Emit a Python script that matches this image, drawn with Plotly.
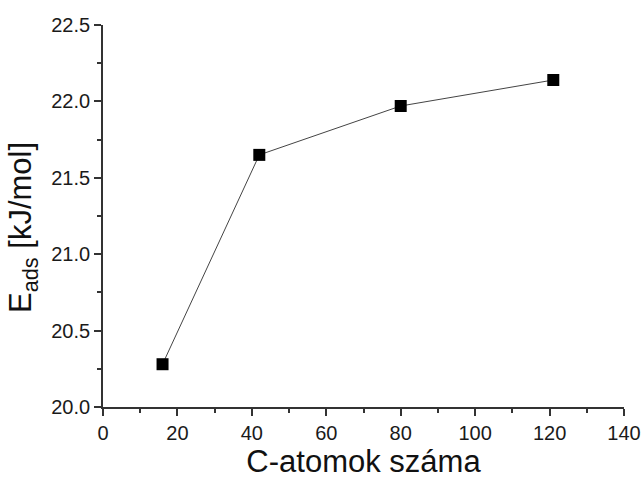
import plotly.graph_objects as go

# Number of carbon atoms in the model and the adsorption energy
c_atoms = [16, 42, 80, 121]
e_ads = [20.28, 21.65, 21.97, 22.14]

x_ticks = [0, 20, 40, 60, 80, 100, 120, 140]
y_ticks = [20.0, 20.5, 21.0, 21.5, 22.0, 22.5]

FONT = "Liberation Sans, Arial, sans-serif"
AXIS_COLOR = "#333333"

fig = go.Figure(
    go.Scatter(
        x=c_atoms,
        y=e_ads,
        mode="lines+markers",
        line=dict(color="#444444", width=1),
        marker=dict(symbol="square", size=12, color="black"),
        showlegend=False,
    )
)

tick_font = dict(family=FONT, size=20, color="#1a1a1a")
common = dict(
    ticks="outside",
    ticklen=7,
    tickwidth=1.5,
    tickcolor=AXIS_COLOR,
    showline=True,
    linecolor=AXIS_COLOR,
    linewidth=1.8,
    showgrid=False,
    zeroline=False,
    tickfont=tick_font,
    automargin=False,
)

fig.update_xaxes(
    range=[0, 140],
    tickvals=x_ticks,
    ticktext=[str(v) for v in x_ticks],
    minor=dict(ticks="outside", ticklen=4, tickwidth=1.5, tickcolor=AXIS_COLOR, dtick=10, showgrid=False),
    title=dict(text="C-atomok száma", font=dict(family=FONT, size=31, color="#111111"), standoff=6),
    **common,
)

fig.update_yaxes(
    range=[20.0, 22.5],
    tickvals=y_ticks,
    ticktext=[f"{v:.1f}" for v in y_ticks],
    minor=dict(ticks="outside", ticklen=4, tickwidth=1.5, tickcolor=AXIS_COLOR, dtick=0.25, showgrid=False),
    **common,
)

# Vertical axis label, placed as a rotated annotation left of the tick labels
fig.add_annotation(
    text="E<sub>ads</sub> [kJ/mol]",
    xref="paper",
    yref="paper",
    x=0,
    y=0.5,
    xshift=-80,
    yshift=-12,
    xanchor="center",
    yanchor="middle",
    textangle=-90,
    showarrow=False,
    font=dict(family=FONT, size=31, color="#111111"),
)

fig.update_layout(
    width=643,
    height=479,
    margin=dict(l=103, r=19, t=25, b=72, autoexpand=False),
    plot_bgcolor="white",
    paper_bgcolor="white",
)

fig.write_html("out.html")
